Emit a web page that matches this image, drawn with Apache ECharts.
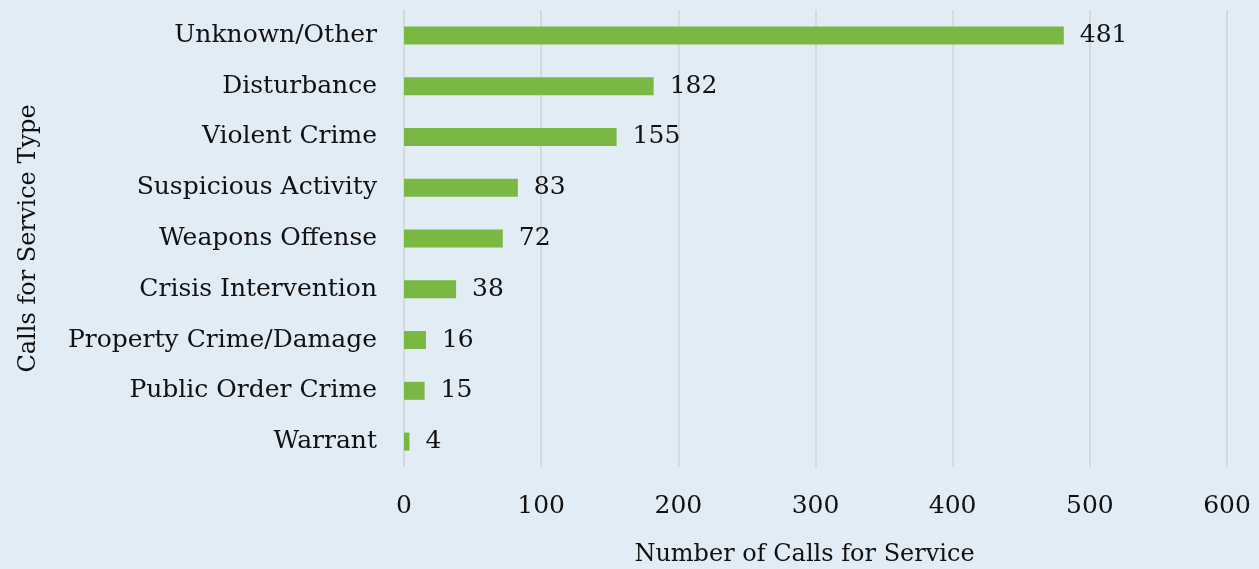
<!DOCTYPE html>
<html>
<head>
<meta charset="utf-8">
<script src="https://cdn.jsdelivr.net/npm/echarts@6/dist/echarts.min.js"></script>
<style>
  html, body { margin: 0; padding: 0; background: #E2ECF5; }
  #chart { width: 1259px; height: 569px; }
</style>
</head>
<body>
<div id="chart"></div>
<script>
// Calls for service by type, listed top to bottom
const categories = [
  'Unknown/Other', 'Disturbance', 'Violent Crime', 'Suspicious Activity',
  'Weapons Offense', 'Crisis Intervention', 'Property Crime/Damage',
  'Public Order Crime', 'Warrant'
];
const callCounts = [481, 182, 155, 83, 72, 38, 16, 15, 4];
const xTicks = [0, 100, 200, 300, 400, 500, 600];

const FONT = 'DejaVu Serif';
const chart = echarts.init(document.getElementById('chart'));

chart.setOption({
  backgroundColor: '#E2ECF5',
  textStyle: { fontFamily: FONT },
  grid: {
    left: 404, right: 32, top: 10, bottom: 102,
    containLabel: false,
    outerBoundsMode: 'none'
  },
  xAxis: {
    type: 'value',
    min: xTicks[0],
    max: xTicks[xTicks.length - 1],
    interval: 100,
    name: 'Number of Calls for Service',
    nameLocation: 'middle',
    nameGap: 76,
    nameTextStyle: {
      fontFamily: FONT, fontSize: 24, color: '#111',
      padding: [0, 22, 0, 0]
    },
    axisLine: { show: false },
    axisTick: { show: false },
    axisLabel: { margin: 27, fontFamily: FONT, fontSize: 25, color: '#111' },
    splitLine: { show: true, lineStyle: { color: '#D6D9DC', width: 2 } }
  },
  yAxis: {
    type: 'category',
    inverse: true,
    data: categories,
    name: 'Calls for Service Type',
    nameLocation: 'middle',
    nameGap: 363,
    nameRotate: 90,
    nameTextStyle: { fontFamily: FONT, fontSize: 24, color: '#111' },
    axisLine: { show: false },
    axisTick: { show: false },
    axisLabel: { margin: 27, fontFamily: FONT, fontSize: 25, color: '#111' }
  },
  series: [{
    type: 'bar',
    data: callCounts,
    barWidth: 18,
    itemStyle: { color: '#7AB843' },
    label: {
      show: true,
      position: 'right',
      distance: 16,
      fontFamily: FONT,
      fontSize: 25,
      color: '#111'
    },
    silent: true,
    animation: false
  }],
  animation: false
});
</script>
</body>
</html>
